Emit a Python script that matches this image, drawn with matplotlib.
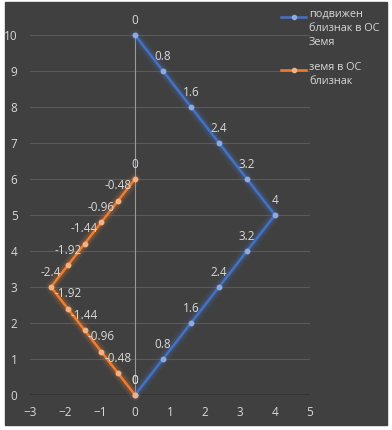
import matplotlib
matplotlib.use("Agg")
import matplotlib.pyplot as plt
from matplotlib.patches import Rectangle
from matplotlib.lines import Line2D

plt.rcParams["font.family"] = ["Open Sans", "DejaVu Sans"]

# --- Data ---
twin_x = [0, 0.8, 1.6, 2.4, 3.2, 4, 3.2, 2.4, 1.6, 0.8, 0]
twin_y = [10, 9, 8, 7, 6, 5, 4, 3, 2, 1, 0]
earth_x = [0, -0.48, -0.96, -1.44, -1.92, -2.4, -1.92, -1.44, -0.96, -0.48, 0]
earth_y = [6, 5.4, 4.8, 4.2, 3.6, 3, 2.4, 1.8, 1.2, 0.6, 0]
twin_name = "подвижен\nблизнак в ОС\nЗемя"
earth_name = "земя в ОС\nблизнак"

BG = "#404040"
TXT = "#d9d9d9"
BLUE = "#4472c4"
ORANGE = "#ed7d31"
FS = 8.5

W, H = 392, 430
fig = plt.figure(figsize=(W / 100, H / 100), dpi=100, facecolor="white")
fig.add_artist(Rectangle((5 / W, 1 - 425 / H), 382 / W, 423 / H,
                         transform=fig.transFigure, color=BG, zorder=0))

ax = fig.add_axes([30 / W, 35 / H, 280 / W, 360 / H])
ax.set_facecolor(BG)
ax.set_xlim(-3, 5)
ax.set_ylim(0, 10)
ax.set_xticks(range(-3, 6))
ax.set_yticks(range(0, 11))
for s in ax.spines.values():
    s.set_visible(False)
ax.tick_params(length=0, colors=TXT, labelsize=FS)
ax.tick_params(axis="y", pad=9)
ax.tick_params(axis="x", pad=8)
ax.grid(axis="y", color="#5a5a5a", lw=0.8)
ax.set_axisbelow(True)
ax.axhline(0, color="black", lw=1, zorder=1)
ax.axvline(0, color="#9a9a9a", lw=0.8, zorder=1)


def series(x, y, color, mcolor):
    # soft glow under the line
    for lw, a in [(8, 0.1), (5, 0.18)]:
        ax.plot(x, y, color=color, lw=lw, alpha=a, solid_capstyle="round",
                clip_on=False, zorder=2)
    ax.plot(x, y, color=color, lw=1.8, marker="o", markersize=3.2,
            markerfacecolor=mcolor, markeredgecolor=mcolor,
            clip_on=False, zorder=3)
    for xi, yi in zip(x, y):
        ax.annotate(f"{xi:g}", (xi, yi), xytext=(0, 6), textcoords="offset points",
                    ha="center", va="bottom", color=TXT, fontsize=FS,
                    annotation_clip=False, zorder=4)


series(twin_x, twin_y, BLUE, "#8faadc")
series(earth_x, earth_y, ORANGE, "#f4b183")

# --- Legend (handle beside first text line, as in Excel) ---
for ypx, color, mcolor, name in [(17, BLUE, "#8faadc", twin_name),
                                 (70, ORANGE, "#f4b183", earth_name)]:
    yf = 1 - ypx / H
    fig.add_artist(Line2D([281 / W, 306 / W], [yf, yf], color=color, lw=1.8,
                          transform=fig.transFigure))
    fig.add_artist(Line2D([293.5 / W], [yf], marker="o", markersize=3,
                          color=mcolor, transform=fig.transFigure))
    fig.text(309 / W, yf + 8 / H, name, color=TXT, fontsize=7.8, va="top",
             linespacing=1.4, transform=fig.transFigure)

fig.savefig("out.png", dpi=100, facecolor="white")
